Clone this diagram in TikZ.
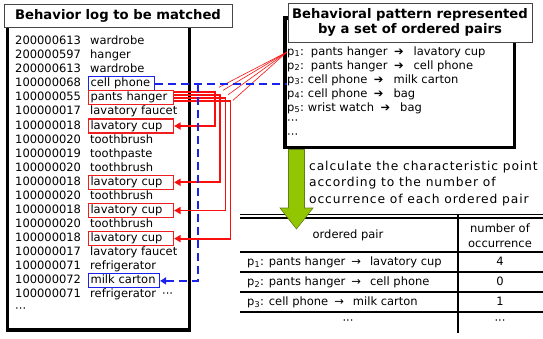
\documentclass[tikz,border=0pt]{standalone}
\usepackage{fontspec}
\setmainfont{DejaVu Sans}
\newfontfamily\spacedfont[LetterSpace=7]{DejaVu Sans}
\usetikzlibrary{arrows.meta,calc}

\definecolor{hlred}{RGB}{240,30,30}
\definecolor{hlblue}{RGB}{25,35,235}
\definecolor{linkred}{RGB}{250,15,15}
\definecolor{arrgreen}{RGB}{146,198,0}
\definecolor{arredge}{RGB}{95,125,25}
\definecolor{ttledge}{RGB}{70,70,70}

% gaps around the arrows of the ordered pairs
\newcommand\pairto{\hspace{6.5pt}➔\hspace{10pt}}
\newcommand\tblto{\hspace{6pt}→\hspace{9pt}}
\newcommand\pname[1]{p\textsubscript{#1}:}

\tikzset{
  panel/.style={draw, line width=3.2pt, inner sep=0pt},
  ttl/.style={draw=ttledge, line width=0.9pt, fill=white, align=center, inner sep=0pt,
    font=\fontsize{13.2}{15}\selectfont\bfseries},
  logtxt/.style={inner sep=0pt, anchor=west, text height=8.5pt, text depth=2.5pt,
    font=\fontsize{11.5}{14}\selectfont},
  hlbox/.style={draw=#1, line width=1.1pt, anchor=west, inner xsep=2pt, inner ysep=1.5pt,
    align=left, text height=8.5pt, text depth=2.5pt, font=\fontsize{11.5}{14}\selectfont},
  item/.style={inner sep=0pt, anchor=west, text height=8.5pt, text depth=2.5pt,
    font=\fontsize{11.5}{14}\selectfont},
  tbl/.style={inner sep=0pt, text height=8.5pt, text depth=2.5pt,
    font=\fontsize{11.5}{15}\selectfont},
  calctxt/.style={inner sep=0pt, anchor=west, font=\spacedfont\fontsize{12.3}{16}\selectfont},
  redlink/.style={draw=linkred, line width=1.8pt, -{Triangle[length=6.5pt,width=7pt]}},
  redthin/.style={draw=linkred, line width=0.6pt},
  bluelink/.style={draw=hlblue, line width=2.2pt, dash pattern=on 8pt off 5pt},
  garrow/.style={fill=arrgreen, draw=arredge, line width=0.6pt, line join=miter},
  rule/.style={line width=#1},
}

\begin{document}
\begin{tikzpicture}[x=1pt,y=-1pt]
\useasboundingbox (0,0) rectangle (543,338);

% ---------------- behavior log ----------------
\node[panel, minimum width=182pt, minimum height=310pt] (logpanel) at (98.5,175) {};
\node[ttl, minimum width=228pt, minimum height=23pt] (logtitle) at (118,15.5) {Behavior log to be matched};

\node[logtxt] (n1)  at (15,41.5)  {200000613}; \node[logtxt] (w1)  at (90,41.5)  {wardrobe};
\node[logtxt] (n2)  at (15,55.6)  {200000597}; \node[logtxt] (w2)  at (90,55.6)  {hanger};
\node[logtxt] (n3)  at (15,69.7)  {200000613}; \node[logtxt] (w3)  at (90,69.7)  {wardrobe};
\node[logtxt] (n4)  at (15,83.7)  {100000068}; \node[hlbox=hlblue, text width=62pt] (cell) at (88,83.7) {cell phone};
\node[logtxt] (n5)  at (15,97.8)  {100000055}; \node[hlbox=hlred, text width=81pt] (ph) at (88,97.8) {pants hanger};
\node[logtxt] (n6)  at (15,111.9) {100000017}; \node[logtxt] (w6)  at (90,111.9) {lavatory faucet};
\node[logtxt] (n7)  at (15,126.0) {100000018}; \node[hlbox=hlred, text width=81pt] (lc1) at (88,126.0) {lavatory cup};
\node[logtxt] (n8)  at (15,140.1) {100000020}; \node[logtxt] (w8)  at (90,140.1) {toothbrush};
\node[logtxt] (n9)  at (15,154.1) {100000019}; \node[logtxt] (w9)  at (90,154.1) {toothpaste};
\node[logtxt] (n10) at (15,168.2) {100000020}; \node[logtxt] (w10) at (90,168.2) {toothbrush};
\node[logtxt] (n11) at (15,182.3) {100000018}; \node[hlbox=hlred, text width=81pt] (lc2) at (88,182.3) {lavatory cup};
\node[logtxt] (n12) at (15,196.4) {100000020}; \node[logtxt] (w12) at (90,196.4) {toothbrush};
\node[logtxt] (n13) at (15,210.5) {100000018}; \node[hlbox=hlred, text width=81pt] (lc3) at (88,210.5) {lavatory cup};
\node[logtxt] (n14) at (15,224.5) {100000020}; \node[logtxt] (w14) at (90,224.5) {toothbrush};
\node[logtxt] (n15) at (15,238.6) {100000018}; \node[hlbox=hlred, text width=81pt] (lc4) at (88,238.6) {lavatory cup};
\node[logtxt] (n16) at (15,252.7) {100000017}; \node[logtxt] (w16) at (90,252.7) {lavatory faucet};
\node[logtxt] (n17) at (15,266.8) {100000071}; \node[logtxt] (w17) at (90,266.8) {refrigerator};
\node[logtxt] (n18) at (15,280.9) {100000072}; \node[hlbox=hlblue, text width=67pt] (milk) at (88,280.9) {milk carton};
\node[logtxt] (n19) at (15,294.9) {100000071}; \node[logtxt] (w19) at (90,294.9) {refrigerator\hspace{6pt}···};
\node[logtxt] (n20) at (15,309.0) {···};

% ---------------- ordered pairs ----------------
\node[panel, minimum width=229.7pt, minimum height=129.7pt] (patpanel) at (399.9,82.9) {};
\node[ttl, minimum width=244pt, minimum height=39pt] (pattitle) at (410,22.5)
  {Behavioral pattern represented\\by a set of ordered pairs};

\node[item] (p1) at (287,52)  {\pname{1}\hspace{7pt}pants hanger\pairto lavatory cup};
\node[item] (p2) at (287,66)  {\pname{2}\hspace{7pt}pants hanger\pairto cell phone};
\node[item] (p3) at (287,80)  {\pname{3}\hspace{4pt}cell phone\pairto milk carton};
\node[item] (p4) at (287,94)  {\pname{4}\hspace{4pt}cell phone\pairto bag};
\node[item] (p5) at (287,108) {\pname{5}\hspace{4pt}wrist watch\pairto bag};
\node[item] (p6) at (287,121) {···};
\node[item] (p7) at (287,135) {···};

% ---------------- links from p1 to the log ----------------
\coordinate (x1) at (215,0);
\coordinate (x2) at (220,0);
\coordinate (x3) at (225.5,0);
\coordinate (x4) at (230.5,0);
\coordinate (c1) at ($(ph.east)+(0,-5.5)$);
\coordinate (c2) at ($(ph.east)+(0,-2.5)$);
\coordinate (c3) at ($(ph.east)+(0,0.5)$);
\coordinate (c4) at ($(ph.east)+(0,3.5)$);

\draw[redlink] (c1) -| (lc1.east -| x1) -- (lc1.east);
\draw[redlink] (c2) -| (lc2.east -| x2) -- (lc2.east);
\draw[redlink] (c3) -| (lc3.east -| x3) -- (lc3.east);
\draw[redlink] (c4) -| (lc4.east -| x4) -- (lc4.east);

\draw[redthin] (p1.west) -- ($(c1 -| x1)+(4,-5)$);
\draw[redthin] (p1.west) -- ($(c2 -| x2)+(3,-5)$);
\draw[redthin] (p1.west) -- ($(c3 -| x3)+(2.5,-3.5)$);
\draw[redthin] (p1.west) -- ($(c4 -| x4)+(2.5,-1)$);

% ---------------- link from p3 to the log ----------------
\coordinate (xb) at (198,0);
\draw[bluelink] (cell.east) -- (cell.east -| p3.west);
\draw[bluelink, -{Triangle[length=6pt,width=7pt]}] (cell.east -| xb) |- (milk.east);

% ---------------- table ----------------
\draw[rule=1.8pt] (240,214.5) -- (543,214.5);
\draw[rule=1.8pt] (240,218.3) -- (543,218.3);
\draw[rule=1.6pt] (240,252) -- (543,252);
\draw[rule=1.2pt] (240,272) -- (543,272);
\draw[rule=1.2pt] (240,292) -- (543,292);
\draw[rule=1.2pt] (240,312) -- (543,312);
\draw[rule=2pt] (458,213.6) -- (458,332.5);

\node[tbl] (hpair) at (348,235) {ordered pair};
\node[inner sep=0pt, align=center, font=\fontsize{11.5}{15}\selectfont] (hnum) at (500,235.5) {number of\\occurrence};
\node[tbl, anchor=west] (t1) at (247,262.5) {\pname{1} pants hanger\tblto lavatory cup};
\node[tbl, anchor=west] (t2) at (247,282.5) {\pname{2} pants hanger\tblto cell phone};
\node[tbl, anchor=west] (t3) at (247,302.5) {\pname{3} cell phone\tblto milk carton};
\node[tbl] (t4) at (348,321) {···};
\node[tbl] (v1) at (500,262.5) {4};
\node[tbl] (v2) at (500,282.5) {0};
\node[tbl] (v3) at (500,302.5) {1};
\node[tbl] (v4) at (500,321) {···};

% ---------------- step between the two ----------------
\coordinate (gs) at (296.5,149.5);
\coordinate (gt) at (296.5,229);
\draw[garrow] ($(gs)+(-8,0)$) -- ($(gs)+(8,0)$) -- ($(gt)+(8,-21)$) -- ($(gt)+(16.5,-21)$)
  -- (gt) -- ($(gt)+(-16.5,-21)$) -- ($(gt)+(-8,-21)$) -- cycle;

\node[calctxt] (s1) at (309,167) {calculate the characteristic point};
\node[calctxt] (s2) at (309,183.5) {according to the number of};
\node[calctxt] (s3) at (309,200) {occurrence of each ordered pair};
\end{tikzpicture}
\end{document}
